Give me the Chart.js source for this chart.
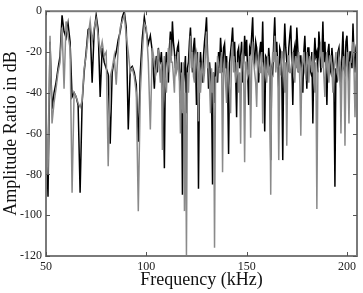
<!DOCTYPE html>
<html>
<head>
<meta charset="utf-8">
<script src="https://cdn.jsdelivr.net/npm/chart.js@4/dist/chart.umd.min.js"></script>
<style>
html,body{margin:0;padding:0;background:#fff;}
#wrap{width:363px;height:293px;position:relative;}
</style>
</head>
<body>
<div id="wrap"><canvas id="c" width="363" height="293"></canvas></div>
<script>
// frequency grid: 1 kHz steps up to 103, then 0.5 kHz steps to 205
const freqKHz = [];
for (let f = 50; f <= 103; f++) freqKHz.push(f);
for (let k = 208; k <= 410; k++) freqKHz.push(k / 2);

const blackSeries = [
 -55,-91,-15,-48,-40,-35,-28,-22,-2,-10,
 -13,-6,-15,-42,-40,-42,-46,-89,-45,-30,
 -20,-9,-8,-35,-10,-2,-9,-42,-18,-25,
 -28,-31,-65,-30,-24,-20,-14,-10,-3,0,
 -8,-58,-28,-27,-30,-36,-64,-30,-13,-3,
 -10,-16,-12,-20,
 -38,-28, -22,-30, -18,-24, -25,-20, -30,-45, -77,-28,
 -20,-25, -35,-18, -10,-22, -5,-15, -20,-28, -22,-18, -16,-30, -45,-25, -90,-35, -30,-22,
 -50,-28, -25,-15, -8,-20, -30,-18, -13,-25, -46,-20, -87,-32, -20,-28, -35,-22, -15,-10,
 -3,-20, -38,-25, -32,-40, -85,-30, -45,-25, -30,-35, -20,-28, -13,-22, -30,-18, -16,-28,
 -22,-35, -70,-25, -20,-15, -8,-22, -15,-30, -52,-20, -18,-28, -22,-15, -35,-25, -12,-22,
 -14,-30, -46,-18, -20,-12, -3,-22, -25,-15, -18,-28, -35,-20, -15,-25, -5,-30, -59,-22,
 -23,-30, -18,-25, -73,-28, -30,-15, -3,-20, -15,-28, -38,-18, -20,-30, -73,-22, -6,-18,
 -25,-30, -18,-12, -7,-25, -46,-20, -17,-28, -8,-18, -30,-22, -22,-35, -40,-20, -12,-25,
 -38,-18, -18,-28, -30,-20, -55,-25, -13,-22, -20,-30, -10,-18, -30,-22, -5,-25, -15,-30,
 -46,-20, -16,-28, -30,-18, -25,-35, -86,-28, -35,-20, -18,-30, -40,-22, -10,-28, -30,-15,
 -12,-25, -35,-20, -20,-28, -6,-22, -30,-18, -15
];

const graySeries = [
 -45,-80,-12,-55,-45,-38,-30,-25,-8,-38,
 -5,-12,-18,-89,-40,-42,-45,-47,-44,-28,
 -22,-12,-5,-15,-8,-4,-12,-20,-15,-22,
 -20,-76,-32,-28,-22,-36,-18,-8,-5,-2,
 -12,-20,-30,-28,-32,-40,-98,-40,-20,-6,
 -8,-25,-58,-18,
 -25,-32, -30,-22, -20,-28, -35,-25, -68,-30, -22,-35,
 -40,-28, -18,-30, -14,-25, -25,-32, -40,-22, -30,-28, -20,-35, -60,-30, -50,-25, -98,-40,
 -120,-30, -40,-25, -12,-28, -20,-32, -35,-22, -20,-30, -54,-25, -40,-30, -25,-35, -30,-20,
 -10,-28, -25,-35, -50,-28, -40,-30, -116,-32, -35,-22, -25,-30, -30,-20, -79,-28, -25,-35,
 -45,-25, -30,-40, -50,-22, -15,-30, -25,-35, -30,-25, -40,-30, -65,-22, -20,-30, -74,-25,
 -25,-32, -30,-22, -62,-28, -15,-25, -30,-35, -47,-25, -22,-30, -30,-20, -55,-28, -25,-32,
 -35,-22, -30,-28, -90,-30, -20,-25, -12,-30, -25,-22, -73,-28, -30,-20, -20,-32, -40,-25,
 -66,-22, -22,-30, -30,-25, -20,-32, -35,-22, -25,-30, -20,-35, -61,-28, -25,-20, -30,-32,
 -20,-25, -35,-22, -25,-30, -20,-35, -40,-25, -97,-30, -25,-22, -15,-28, -20,-32, -42,-25,
 -20,-30, -35,-22, -22,-28, -40,-30, -25,-20, -30,-32, -22,-25, -60,-30, -25,-22, -66,-28,
 -20,-30, -55,-25, -25,-20, -15,-28, -52,-30, -20
];

const xTicks = [50, 100, 150, 200];
const yTicks = [-120, -100, -80, -60, -40, -20, 0];
const xTitle = 'Frequency (kHz)';
const yTitle = 'Amplitude Ratio in dB';

const toPts = arr => arr.map((v, i) => ({x: freqKHz[i], y: v}));

const frame = {
  id: 'frame',
  afterDraw(chart) {
    const {ctx, chartArea: a, scales} = chart;
    ctx.save();
    ctx.strokeStyle = '#7a7a7a';
    ctx.lineWidth = 2;
    ctx.strokeRect(a.left, a.top, a.right - a.left, a.bottom - a.top);
    ctx.lineWidth = 1;
    ctx.strokeStyle = '#555';
    const L = 4;
    xTicks.forEach(t => {
      const x = Math.round(scales.x.getPixelForValue(t)) + 0.5;
      ctx.beginPath();
      ctx.moveTo(x, a.bottom); ctx.lineTo(x, a.bottom - L);
      ctx.moveTo(x, a.top); ctx.lineTo(x, a.top + L);
      ctx.stroke();
    });
    yTicks.forEach(t => {
      const y = Math.round(scales.y.getPixelForValue(t)) + 0.5;
      ctx.beginPath();
      ctx.moveTo(a.left, y); ctx.lineTo(a.left + L, y);
      ctx.moveTo(a.right, y); ctx.lineTo(a.right - L, y);
      ctx.stroke();
    });
    ctx.restore();
  }
};

new Chart(document.getElementById('c'), {
  type: 'line',
  data: {
    datasets: [
      {data: toPts(graySeries), borderColor: '#8a8a8a', borderWidth: 1.5, pointRadius: 0, tension: 0},
      {data: toPts(blackSeries), borderColor: '#000', borderWidth: 1.5, pointRadius: 0, tension: 0}
    ]
  },
  options: {
    responsive: false,
    animation: false,
    events: [],
    layout: {padding: {left: 0, top: 4, right: 6, bottom: 0}},
    plugins: {legend: {display: false}, tooltip: {enabled: false}},
    scales: {
      x: {
        type: 'linear', min: 50, max: 205,
        afterFit(s) { s.height = 37; },
        afterBuildTicks(s) { s.ticks = xTicks.map(v => ({value: v})); },
        grid: {display: false, drawTicks: false},
        border: {display: false},
        ticks: {padding: 4, color: '#222', font: {family: 'Liberation Serif', size: 12}, maxRotation: 0},
        title: {display: true, text: xTitle, color: '#111', font: {family: 'Liberation Serif', size: 18}, padding: {top: 0, bottom: 2}}
      },
      y: {
        min: -120, max: 0,
        afterFit(s) { s.width = 46; },
        afterBuildTicks(s) { s.ticks = yTicks.map(v => ({value: v})); },
        grid: {display: false, drawTicks: false},
        border: {display: false},
        ticks: {padding: 4, color: '#222', font: {family: 'Liberation Serif', size: 12}},
        title: {display: true, text: yTitle, color: '#111', font: {family: 'Liberation Serif', size: 18}, padding: {top: 0, bottom: 0}}
      }
    }
  },
  plugins: [frame]
});
</script>
</body>
</html>
